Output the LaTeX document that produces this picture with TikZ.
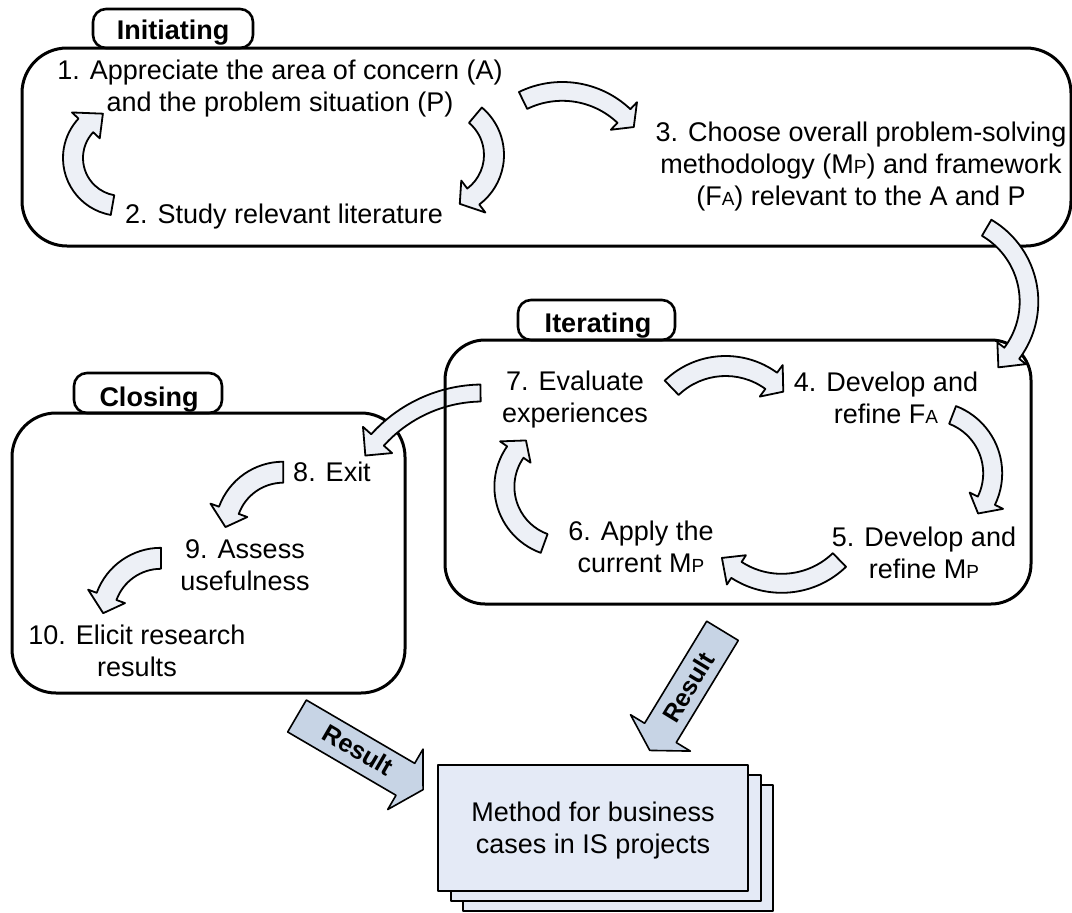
\documentclass[tikz,border=0pt]{standalone}
\usepackage{fontspec}
\setmainfont{Liberation Sans}
\definecolor{arrfill}{RGB}{237,240,246}
\definecolor{resfill}{RGB}{199,212,229}
\definecolor{docfill}{RGB}{228,234,246}
\newcommand{\smallsub}[1]{{\fontsize{19}{19}\selectfont #1}}
% curved block arrow: cx cy R startangle headbaseangle tipangle halfwidth headhalfwidth
\newcommand{\carr}[8]{%
  \pgfmathsetmacro\cOa{#3+#7}\pgfmathsetmacro\cIa{#3-#7}%
  \pgfmathsetmacro\cOb{#3+#8}\pgfmathsetmacro\cIb{#3-#8}%
  \draw[curv, shift={(#1,-#2)}] (#4:\cOa) arc[start angle=#4, end angle=#5, radius=\cOa]
    -- (#5:\cOb) -- (#6:#3) -- (#5:\cIb) -- (#5:\cIa)
    arc[start angle=#5, end angle=#4, radius=\cIa] -- cycle;}
% straight result arrow: x y angle length textangle along perp
\newcommand{\rarr}[7]{%
  \begin{scope}[shift={(#1,-#2)}, rotate=#3]
    \draw[resarrow] (0,18.5) -- (#4-20.5,18.5) -- (#4-20.5,35) -- (#4,0)
      -- (#4-20.5,-35) -- (#4-20.5,-18.5) -- (0,-18.5) -- cycle;
    \node[restext, rotate=#5] at (#6,#7) {Result};
  \end{scope}}
\begin{document}
\begin{tikzpicture}[x=1pt,y=1pt,line join=round,
  every node/.style={inner sep=0pt, align=center, font=\fontsize{27}{32}\selectfont},
  boxline/.style={draw=black, line width=3pt},
  tabline/.style={draw=black, line width=2.6pt, fill=white, rounded corners=13pt},
  curv/.style={draw=black, line width=1.8pt, fill=arrfill},
  resarrow/.style={draw=black, line width=1.6pt, fill=resfill},
  restext/.style={font=\fontsize{25}{25}\selectfont\bfseries},
  tabtext/.style={font=\fontsize{27}{32}\selectfont\bfseries},
  doc/.style={draw=black, line width=2pt, fill=docfill}]
\useasboundingbox (0,0) rectangle (1072,-913);
\fill[white] (0,0) rectangle (1072,-913);

% tabs
\draw[tabline] (93,-9) rectangle (253,-48);
\node[tabtext] (tInit) at (173,-33) {Initiating};
\draw[tabline] (518,-300) rectangle (675,-340);
\node[tabtext] (tIter) at (598,-326) {Iterating};
\draw[tabline] (74,-373) rectangle (222,-413);
\node[tabtext] (tClose) at (149,-400) {Closing};

% boxes
\draw[boxline, rounded corners=45pt] (22,-48) rectangle (1071,-246);
\draw[boxline, rounded corners=44pt] (12,-413) rectangle (405,-693);
\carr{483}{534.9}{141.9}{91}{138}{146}{8.5}{19.6}
\draw[boxline, rounded corners=40pt] (445,-340) rectangle (1031,-604);

% curved arrows
\carr{943.3}{301.7}{85.7}{59.6}{-37}{-50}{9.3}{18}
\carr{442}{155}{52}{50}{-53}{-70}{10}{20}
\carr{120.8}{158}{47.8}{260}{137}{112}{10}{19}
\carr{562.3}{180.9}{89.5}{116}{46.5}{37}{9.4}{19}
\carr{725.6}{443.6}{77.6}{134}{54}{42}{10}{19.5}
\carr{930.2}{473.3}{62.5}{69}{-26}{-40}{9.5}{18.6}
\carr{781.7}{500.2}{83.1}{-46}{-123}{-136}{9.5}{17.5}
\carr{564.8}{486.7}{60.4}{250}{145}{130}{10}{18.6}
\carr{283.3}{530.1}{57.9}{90}{160}{177}{10.5}{19.6}
\carr{161}{616.2}{57.9}{90}{160}{177}{10.5}{19.6}

% result arrows
\rarr{297}{716}{-30.3}{146}{-30.3}{70}{2}
\rarr{722.5}{630.8}{-121.3}{140}{58.7}{66}{0}

% method stack
\draw[doc] (463,-785) rectangle (773,-911);
\draw[doc] (451,-775) rectangle (761,-901);
\draw[doc] (438,-765) rectangle (748,-891);
\node (meth) at (593,-831) {Method for business\\cases in IS projects};

% texts
\node (t1) at (280,-89) {1. Appreciate the area of concern (A)\\and the problem situation (P)};
\node (t2) at (284,-217) {2. Study relevant literature};
\node (t3) at (861,-167) {3. Choose overall problem-solving\\methodology (M\smallsub{P}) and framework\\(F\smallsub{A}) relevant to the A and P};
\node (t4) at (886,-398) {4. Develop and\\refine F\smallsub{A}};
\node (t5) at (924,-553) {5. Develop and\\refine M\smallsub{P}};
\node (t6) at (641,-547) {6. Apply the\\current M\smallsub{P}};
\node (t7) at (575,-400) {7. Evaluate\\experiences};
\node (t8) at (332,-472) {8. Exit};
\node (t9) at (245,-565) {9. Assess\\usefulness};
\node (t10) at (137,-651) {10. Elicit research\\results};
\end{tikzpicture}
\end{document}
